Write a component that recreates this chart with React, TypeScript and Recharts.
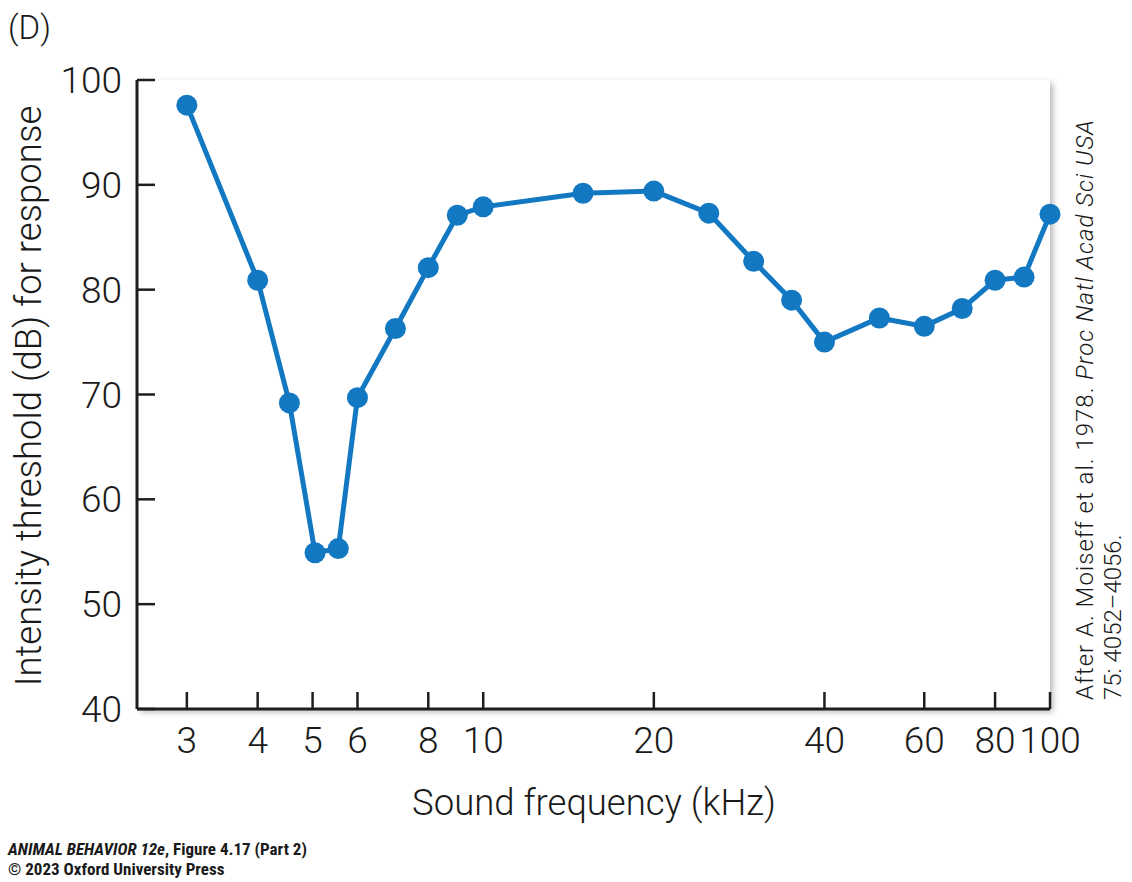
import React from 'react';
import { LineChart, Line, XAxis, YAxis } from 'recharts';

const frequencies = [3, 4, 4.55, 5.05, 5.55, 6, 7, 8, 9, 10, 15, 20, 25, 30, 35, 40, 50, 60, 70, 80, 90, 100];
const thresholds = [97.6, 80.9, 69.2, 54.9, 55.3, 69.7, 76.3, 82.1, 87.1, 87.9, 89.2, 89.4, 87.3, 82.7, 79.0, 75.0, 77.3, 76.5, 78.2, 80.9, 81.2, 87.2];
const xTicks = [3, 4, 5, 6, 8, 10, 20, 40, 60, 80, 100];
const yTicks = [40, 50, 60, 70, 80, 90, 100];

const data = frequencies.map((f, i) => ({ f, v: thresholds[i] }));

const FONT = "'Roboto', 'Liberation Sans', 'DejaVu Sans', sans-serif";
const BLUE = '#1378c2';
const AXIS = '#1e1e1e';

const W = 1132;
const H = 882;
const PL = 137;
const PR = 1050;
const PT = 80;
const PB = 709;
const YW = 80;
const XH = 50;

const XTick = (props: any) => {
  const { x, y, payload } = props;
  return (
    <g>
      <line x1={x} y1={y} x2={x} y2={y - 17} stroke={AXIS} strokeWidth={2.5} />
      <text x={x} y={y + 44} textAnchor="middle" fontFamily={FONT} fontWeight={300} fontSize={37} fill="#1a1a1a">
        {payload.value}
      </text>
    </g>
  );
};

const YTick = (props: any) => {
  const { x, y, payload } = props;
  return (
    <g>
      <line x1={x} y1={y} x2={x + 18} y2={y} stroke={AXIS} strokeWidth={2.5} />
      <text x={x - 15} y={y + 13} textAnchor="end" fontFamily={FONT} fontWeight={300} fontSize={37} fill="#1a1a1a">
        {payload.value}
      </text>
    </g>
  );
};

export default function App() {
  return (
    <div style={{ position: 'absolute', left: 0, top: 0, width: W, height: H, background: '#fff', overflow: 'hidden' }}>
      <div
        style={{
          position: 'absolute',
          left: PL,
          top: PT,
          width: PR - PL,
          height: PB - PT,
          background: '#fff',
          boxShadow: '3px 3px 6px rgba(0,0,0,0.28)',
        }}
      />
      <div style={{ position: 'absolute', left: 0, top: 0 }}>
        <LineChart
          width={W}
          height={H}
          data={data}
          margin={{ top: PT, right: W - PR, bottom: H - PB - XH, left: PL - YW }}
        >
          <XAxis
            dataKey="f"
            type="number"
            scale="log"
            domain={[2.45, 100]}
            ticks={xTicks}
            tick={<XTick />}
            tickSize={0}
            tickMargin={0}
            tickLine={false}
            axisLine={{ stroke: AXIS, strokeWidth: 3 }}
            height={XH}
            interval={0}
          />
          <YAxis
            type="number"
            domain={[40, 100]}
            ticks={yTicks}
            tick={<YTick />}
            tickSize={0}
            tickMargin={0}
            tickLine={false}
            axisLine={{ stroke: AXIS, strokeWidth: 3 }}
            width={YW}
            interval={0}
          />
          <Line
            dataKey="v"
            stroke={BLUE}
            strokeWidth={5}
            dot={{ r: 10.5, fill: BLUE, stroke: BLUE, strokeWidth: 0, clipDot: false }}
            isAnimationActive={false}
          />
        </LineChart>
      </div>
      <div style={{ position: 'absolute', left: 8, top: 8, fontFamily: FONT, fontWeight: 300, fontSize: 33, color: '#1a1a1a', lineHeight: '40px' }}>
        (D)
      </div>
      <div
        style={{
          position: 'absolute',
          left: 28,
          top: 396,
          transform: 'translate(-50%, -50%) rotate(-90deg)',
          whiteSpace: 'nowrap',
          fontFamily: FONT,
          fontWeight: 300,
          fontSize: 36.5,
          color: '#1a1a1a',
        }}
      >
        Intensity threshold (dB) for response
      </div>
      <div
        style={{
          position: 'absolute',
          left: 594,
          top: 802,
          transform: 'translate(-50%, -50%)',
          whiteSpace: 'nowrap',
          fontFamily: FONT,
          fontWeight: 300,
          fontSize: 36.5,
          color: '#1a1a1a',
        }}
      >
        Sound frequency (kHz)
      </div>
      <div
        style={{
          position: 'absolute',
          left: 1071,
          top: 700,
          transformOrigin: '0 0',
          transform: 'rotate(-90deg)',
          whiteSpace: 'nowrap',
          fontFamily: FONT,
          fontWeight: 300,
          fontSize: 24,
          lineHeight: '28px',
          color: '#1a1a1a',
        }}
      >
        <div style={{ letterSpacing: '1px' }}>
          After A. Moiseff et al. 1978. <i>Proc Natl Acad Sci USA</i>
        </div>
        <div>75: 4052–4056.</div>
      </div>
      <div
        style={{
          position: 'absolute',
          left: 8,
          top: 839,
          fontFamily: "'Liberation Sans Narrow', 'Roboto Condensed', 'Liberation Sans', sans-serif",
          fontWeight: 700,
          fontSize: 17,
          lineHeight: '20px',
          color: '#1a1a1a',
          whiteSpace: 'nowrap',
        }}
      >
        <div>
          <i>ANIMAL BEHAVIOR 12e</i>, Figure 4.17 (Part 2)
        </div>
        <div>© 2023 Oxford University Press</div>
      </div>
    </div>
  );
}
